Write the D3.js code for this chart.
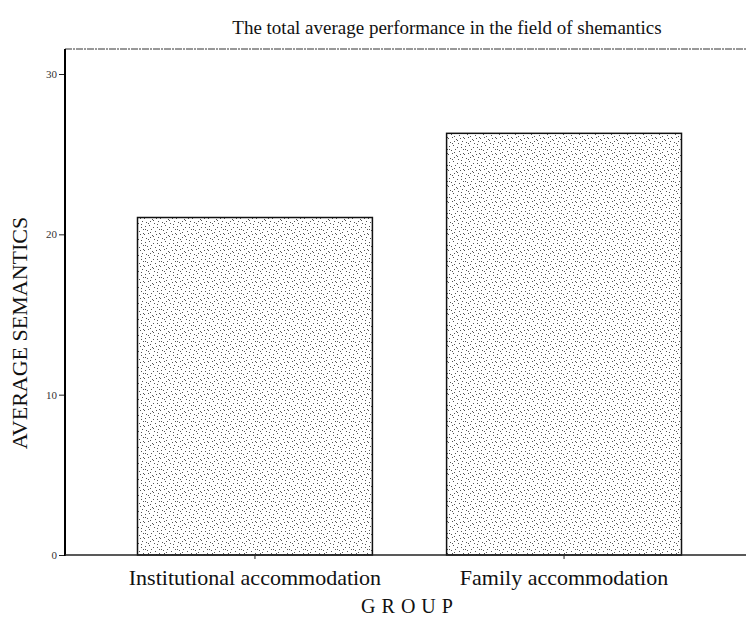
<!DOCTYPE html>
<html>
<head>
<meta charset="utf-8">
<script src="https://cdn.jsdelivr.net/npm/d3@7"></script>
<style>
  body { margin: 0; background: #fff; }
  text { font-family: "Liberation Serif", "DejaVu Serif", serif; fill: #111; }
</style>
</head>
<body>
<div id="chart"></div>
<script>
// chart data
var groups = ["Institutional accommodation", "Family accommodation"];
var semantics = [21.05, 26.3];
var yTicks = [0, 10, 20, 30];

var svgWidth = 746;
var svgHeight = 618;

var svg = d3.select("#chart")
  .append("svg")
  .attr("width", svgWidth)
  .attr("height", svgHeight);

// stipple texture for the bars
var dots = [[1,2],[5,1],[9,3],[13,0],[3,6],[7,5],[11,7],[15,5],[0,10],[4,9],
            [8,11],[12,10],[2,14],[6,13],[10,15],[14,13],[6,8],[13,3],[9,12],[1,5],[15,9],[4,15]];
var pat = svg.append("defs").append("pattern")
  .attr("id", "stipple")
  .attr("patternUnits", "userSpaceOnUse")
  .attr("width", 16)
  .attr("height", 16);
pat.append("rect").attr("width", 16).attr("height", 16).attr("fill", "#fff");
pat.selectAll("rect.d")
  .data(dots)
  .enter()
  .append("rect")
  .attr("class", "d")
  .attr("x", d => d[0])
  .attr("y", d => d[1])
  .attr("width", 1)
  .attr("height", 1)
  .attr("fill", "#555");

var xBandScale = d3.scaleBand()
  .domain(groups)
  .range([69.5, 749.5])
  .paddingInner(0.24)
  .paddingOuter(0.22);

var yLinearScale = d3.scaleLinear()
  .domain([0, 31.56])
  .range([555, 49]);

// top frame line
svg.append("line")
  .attr("x1", 65).attr("x2", 746)
  .attr("y1", 49).attr("y2", 49)
  .attr("stroke", "#333")
  .attr("stroke-width", 1)
  .attr("stroke-dasharray", "7,1,2,1");

// bars
svg.selectAll(".bar")
  .data(semantics)
  .enter()
  .append("rect")
  .attr("class", "bar")
  .attr("x", (d, i) => xBandScale(groups[i]))
  .attr("y", d => yLinearScale(d))
  .attr("width", xBandScale.bandwidth())
  .attr("height", d => yLinearScale(0) - yLinearScale(d))
  .attr("fill", "url(#stipple)")
  .attr("stroke", "#111")
  .attr("stroke-width", 1.5);

// left axis
var leftAxis = d3.axisLeft(yLinearScale)
  .tickValues(yTicks)
  .tickSize(6)
  .tickPadding(2);

var yAxisG = svg.append("g")
  .attr("transform", "translate(65,0)")
  .call(leftAxis);
yAxisG.select(".domain").remove();
yAxisG.selectAll("line").attr("stroke", "#222");
yAxisG.selectAll("text")
  .style("font-size", "11px")
  .style("fill", "#333");

svg.append("line")
  .attr("x1", 65).attr("x2", 65)
  .attr("y1", 49).attr("y2", 556)
  .attr("stroke", "#000")
  .attr("stroke-width", 2);

// bottom axis
var bottomAxis = d3.axisBottom(xBandScale)
  .tickSize(4)
  .tickPadding(10);

var xAxisG = svg.append("g")
  .attr("transform", "translate(0,555)")
  .call(bottomAxis);
xAxisG.select(".domain").remove();
xAxisG.selectAll("line").attr("stroke", "#222");
xAxisG.selectAll("text")
  .style("font-size", "22px")
  .style("fill", "#111");

svg.append("line")
  .attr("x1", 65).attr("x2", 746)
  .attr("y1", 555).attr("y2", 555)
  .attr("stroke", "#222")
  .attr("stroke-width", 1.5);

// titles
svg.append("text")
  .attr("x", 447)
  .attr("y", 34)
  .attr("text-anchor", "middle")
  .style("font-size", "19px")
  .text("The total average performance in the field of shemantics");

svg.append("text")
  .attr("x", 410)
  .attr("y", 613)
  .attr("text-anchor", "middle")
  .style("font-size", "20px")
  .style("letter-spacing", "6px")
  .text("GROUP");

svg.append("text")
  .attr("transform", "rotate(-90)")
  .attr("x", -333)
  .attr("y", 27)
  .attr("text-anchor", "middle")
  .style("font-size", "22px")
  .text("AVERAGE SEMANTICS");
</script>
</body>
</html>
